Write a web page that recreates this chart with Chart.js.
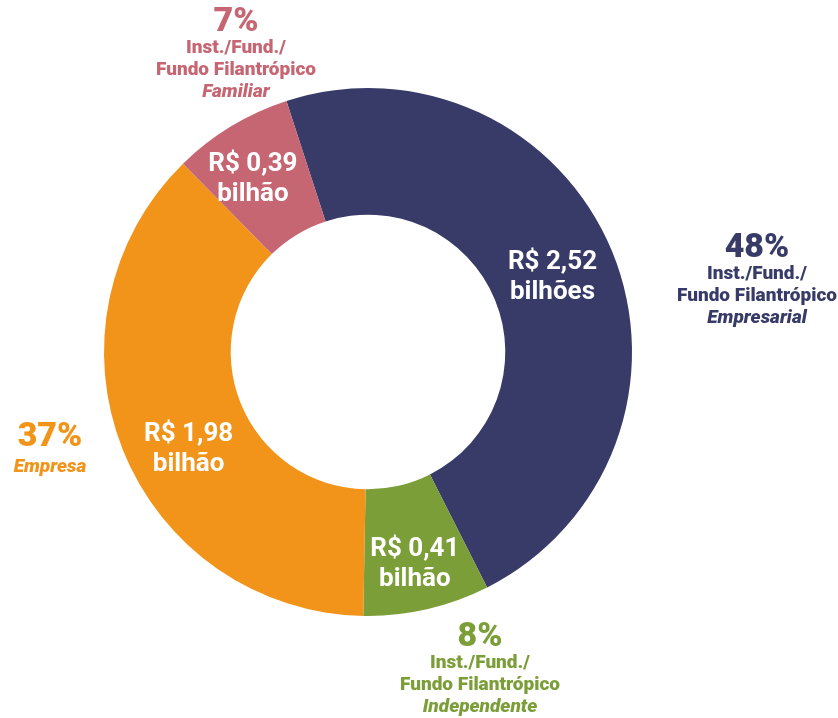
<!DOCTYPE html>
<html>
<head>
<meta charset="utf-8">
<script src="https://cdn.jsdelivr.net/npm/chart.js@4"></script>
<style>
  html, body { margin: 0; padding: 0; background: #fff; }
  #wrap { width: 838px; height: 718px; }
</style>
</head>
<body>
<div id="wrap"><canvas id="donut" width="838" height="718"></canvas></div>
<script>
// data
const categories = ["Empresarial", "Independente", "Empresa", "Familiar"];
const valuesBi = [2.52, 0.41, 1.98, 0.39];
const valueLines = [["R$ 2,52", "bilhões"], ["R$ 0,41", "bilhão"], ["R$ 1,98", "bilhão"], ["R$ 0,39", "bilhão"]];
const percents = ["48%", "8%", "37%", "7%"];
const captionLines = [
  ["Inst./Fund./", "Fundo Filantrópico"],
  ["Inst./Fund./", "Fundo Filantrópico"],
  [],
  ["Inst./Fund./", "Fundo Filantrópico"]
];
const captionItalic = ["Empresarial", "Independente", "Empresa", "Familiar"];
const colors = ["#383b67", "#7b9e38", "#f29419", "#c66673"];

// where the outside captions sit (x centre, y of the percent line)
const captionPos = [[757, 248], [480, 637], [50, 437], [236, 22]];
// nudges of the in-slice labels away from the arc centroid
const innerNudge = [[-1, 2], [2, 17], [7, 23], [-11, -1]];

const FONT = "Roboto, 'Liberation Sans', sans-serif";

const labelPlugin = {
  id: "sliceLabels",
  afterDatasetsDraw(chart) {
    const ctx = chart.ctx;
    const meta = chart.getDatasetMeta(0);
    ctx.save();
    ctx.textAlign = "center";
    ctx.textBaseline = "middle";
    meta.data.forEach(function (arc, i) {
      const p = arc.tooltipPosition();
      const x = p.x + innerNudge[i][0];
      const yy = p.y + innerNudge[i][1];
      ctx.fillStyle = "#ffffff";
      ctx.font = "bold 26px " + FONT;
      ctx.fillText(valueLines[i][0], x, yy - 15);
      ctx.fillText(valueLines[i][1], x, yy + 15);

      // outside captions
      const cx = captionPos[i][0];
      let y = captionPos[i][1];
      ctx.fillStyle = colors[i];
      ctx.font = "900 34px " + FONT;
      ctx.fillText(percents[i], cx, y);
      y += captionLines[i].length ? 26 : 30;
      ctx.font = "900 19px " + FONT;
      captionLines[i].forEach(function (line) {
        ctx.fillText(line, cx, y);
        y += 22;
      });
      ctx.font = "italic 900 19px " + FONT;
      ctx.fillText(captionItalic[i], cx, y);
    });
    ctx.restore();
  }
};

new Chart(document.getElementById("donut").getContext("2d"), {
  type: "doughnut",
  data: {
    labels: categories,
    datasets: [{
      data: valuesBi,
      backgroundColor: colors,
      borderWidth: 0,
      hoverOffset: 0,
      offset: 0
    }]
  },
  options: {
    responsive: false,
    animation: false,
    rotation: -18,
    cutout: "52%",
    layout: { padding: { left: 104, right: 206, top: 88, bottom: 102 } },
    plugins: {
      legend: { display: false },
      tooltip: { enabled: false }
    }
  },
  plugins: [labelPlugin]
});
</script>
</body>
</html>
